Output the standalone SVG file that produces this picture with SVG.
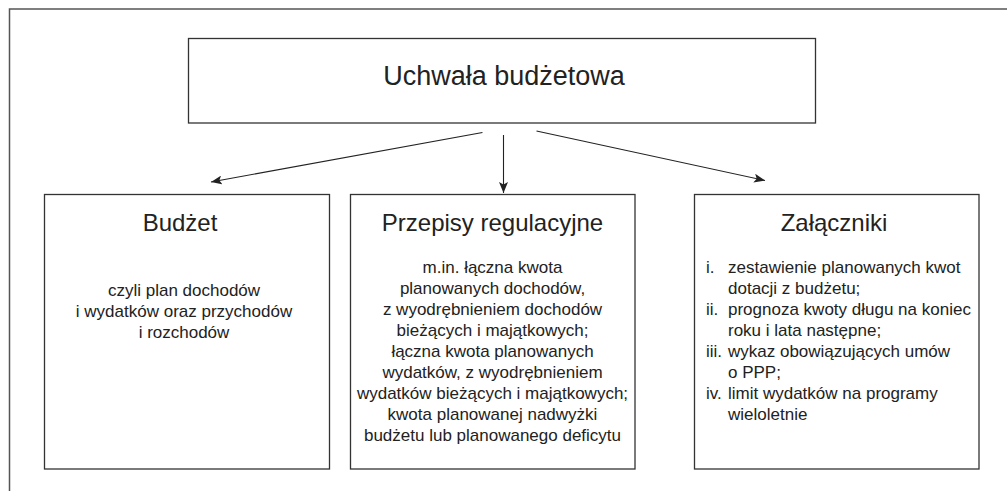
<svg xmlns="http://www.w3.org/2000/svg" width="1007" height="491" viewBox="0 0 1007 491">
<defs>
<marker id="ah" markerWidth="12" markerHeight="9" refX="11" refY="4.5" orient="auto" markerUnits="userSpaceOnUse">
<path d="M0,0 L11,4.5 L0,9 L2.5,4.5 z" fill="#222"/>
</marker>
<style>
.box{fill:#fff;stroke:#333;stroke-width:1.3}
.frame{fill:none;stroke:#555;stroke-width:1.5}
.con{stroke:#222;stroke-width:1.1;fill:none}
text{font-family:"Liberation Sans",Arial,sans-serif;fill:#222}
.big{font-size:27px}
.ttl{font-size:24px}
.body{font-size:17px}
.c{text-anchor:middle}
</style>
</defs>
<rect width="1007" height="491" fill="#fff"/>
<path class="frame" d="M9.5,491 V9 H1007"/>
<g id="uchwala">
<rect class="box" x="188.5" y="38.5" width="627" height="84.5"/>
<text class="big c" x="504" y="85">Uchwała budżetowa</text>
</g>
<g id="budzet">
<rect class="box" x="44.5" y="194.5" width="285" height="274.5"/>
<text class="ttl c" x="180" y="231">Budżet</text>
<text class="body c"><tspan x="184" y="296">czyli plan dochodów</tspan><tspan x="184" y="317">i wydatków oraz przychodów</tspan><tspan x="184" y="338">i rozchodów</tspan></text>
</g>
<g id="przepisy">
<rect class="box" x="350.5" y="194.5" width="284.5" height="274.5"/>
<text class="ttl c" x="492.5" y="231">Przepisy regulacyjne</text>
<text class="body c"><tspan x="492.5" y="273">m.in. łączna kwota</tspan><tspan x="492.5" y="294">planowanych dochodów,</tspan><tspan x="492.5" y="315">z wyodrębnieniem dochodów</tspan><tspan x="492.5" y="336">bieżących i majątkowych;</tspan><tspan x="492.5" y="357">łączna kwota planowanych</tspan><tspan x="492.5" y="378">wydatków, z wyodrębnieniem</tspan><tspan x="492.5" y="399">wydatków bieżących i majątkowych;</tspan><tspan x="492.5" y="420">kwota planowanej nadwyżki</tspan><tspan x="492.5" y="441">budżetu lub planowanego deficytu</tspan></text>
</g>
<g id="zalaczniki">
<rect class="box" x="694.5" y="194.5" width="284.5" height="274.5"/>
<text class="ttl c" x="834" y="231">Załączniki</text>
<text class="body"><tspan x="706" y="273">i.</tspan><tspan x="706" y="315">ii.</tspan><tspan x="706" y="357">iii.</tspan><tspan x="706" y="399">iv.</tspan></text>
<text class="body"><tspan x="728" y="273">zestawienie planowanych kwot</tspan><tspan x="728" y="294">dotacji z budżetu;</tspan><tspan x="728" y="315">prognoza kwoty długu na koniec</tspan><tspan x="728" y="336">roku i lata następne;</tspan><tspan x="728" y="357">wykaz obowiązujących umów</tspan><tspan x="728" y="378">o PPP;</tspan><tspan x="728" y="399">limit wydatków na programy</tspan><tspan x="728" y="420">wieloletnie</tspan></text>
</g>
<g id="connectors">
<line class="con" x1="482.5" y1="132.5" x2="211" y2="182" marker-end="url(#ah)"/>
<line class="con" x1="503.5" y1="135" x2="503.5" y2="193" marker-end="url(#ah)"/>
<line class="con" x1="536.5" y1="131" x2="765" y2="180.5" marker-end="url(#ah)"/>
</g>
</svg>
